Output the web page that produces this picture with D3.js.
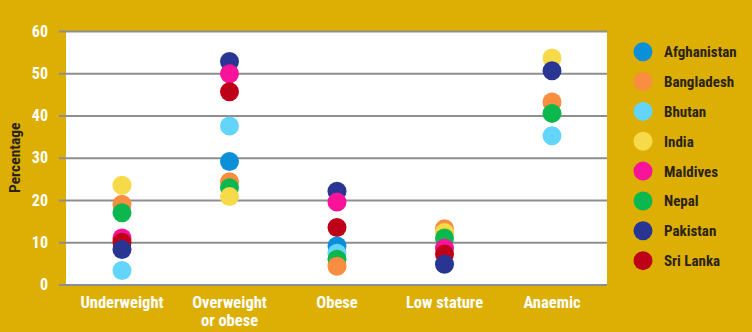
<!DOCTYPE html>
<html>
<head>
<meta charset="utf-8">
<script src="https://cdn.jsdelivr.net/npm/d3@7"></script>
<style>
  html, body { margin: 0; padding: 0; background: #DDAE03; }
  svg { display: block; }
  text { font-family: "Roboto Condensed", "Liberation Sans Narrow", "DejaVu Sans Condensed", sans-serif; font-weight: bold; }
</style>
</head>
<body>
<svg id="chart" width="752" height="332"></svg>
<script>
// Indicators along the x axis
const categories = ["Underweight", "Overweight or obese", "Obese", "Low stature", "Anaemic"];
const countries = ["Afghanistan", "Bangladesh", "Bhutan", "India", "Maldives", "Nepal", "Pakistan", "Sri Lanka"];
const colors = ["#0A8FD8", "#F98D40", "#63D5FA", "#F6DA4A", "#F8139A", "#0CB74E", "#283593", "#BE0019"];
const yTicks = [0, 10, 20, 30, 40, 50, 60];

// Percentage per country, one value per indicator (null = no data)
const afghanistan = [null, 29.1, 9.1, null, null];
const bangladesh  = [19.0, 24.3, 4.3, 13.2, 43.2];
const bhutan      = [3.3, 37.5, 7.4, null, 35.2];
const india       = [23.5, 20.8, null, 12.3, 53.6];
const maldives    = [11.0, 49.9, 19.5, 8.6, null];
const nepal       = [17.0, 22.9, 6.0, 11.0, 40.5];
const pakistan    = [8.3, 52.8, 22.1, 4.8, 50.6];
const sriLanka    = [10.0, 45.6, 13.5, 7.2, null];
const seriesValues = [afghanistan, bangladesh, bhutan, india, maldives, nepal, pakistan, sriLanka];

const svg = d3.select("#chart");
const plot = { left: 66, right: 607, top: 31, bottom: 284.5 };

const x = d3.scalePoint().domain(categories).range([122, 552]);
const y = d3.scaleLinear().domain([0, 60]).range([plot.bottom, plot.top]);
const color = d3.scaleOrdinal().domain(countries).range(colors);

// White plotting panel
svg.append("rect")
  .attr("x", plot.left).attr("y", y(60))
  .attr("width", plot.right - plot.left).attr("height", y(0) - y(60))
  .attr("fill", "#ffffff");

// Horizontal gridlines with tick labels
const yAxis = d3.axisLeft(y).tickValues(yTicks).tickSize(plot.right - 59).tickPadding(11);
const gy = svg.append("g").attr("transform", `translate(${plot.right},0)`).call(yAxis);
gy.select(".domain").remove();
gy.selectAll(".tick line").attr("stroke", "#8E8E8E").attr("stroke-width", 2);
gy.selectAll(".tick text").attr("fill", "#ffffff").attr("font-size", 16);

// Y axis title
svg.append("text")
  .attr("transform", `translate(20,${(y(0) + y(60)) / 2}) rotate(-90)`)
  .attr("text-anchor", "middle")
  .attr("fill", "#2B2415")
  .attr("font-size", 15.5)
  .text("Percentage");

// Category labels (wrap the long one onto two lines)
const labelLines = { "Overweight or obese": ["Overweight", "or obese"] };
const gx = svg.append("g");
categories.forEach(c => {
  const lines = labelLines[c] || [c];
  const t = gx.append("text")
    .attr("x", x(c)).attr("y", 308)
    .attr("text-anchor", "middle")
    .attr("fill", "#ffffff")
    .attr("font-size", 16.5);
  lines.forEach((ln, i) => t.append("tspan").attr("x", x(c)).attr("dy", i === 0 ? 0 : 18).text(ln));
});

// Dots: build records, draw higher values first so lower ones sit on top
const points = [];
countries.forEach((name, ci) => {
  seriesValues[ci].forEach((v, k) => {
    if (v !== null) points.push({ country: name, category: categories[k], value: v });
  });
});
points.sort((a, b) => b.value - a.value);

svg.append("g").selectAll("circle")
  .data(points)
  .join("circle")
  .attr("cx", d => x(d.category))
  .attr("cy", d => y(d.value))
  .attr("r", 9.5)
  .attr("fill", d => color(d.country));

// Legend
const legend = svg.append("g").selectAll("g")
  .data(countries)
  .join("g")
  .attr("transform", (d, i) => `translate(643,${51.7 + i * 29.85})`);
legend.append("circle").attr("r", 9.5).attr("fill", d => color(d));
legend.append("text")
  .attr("x", 21).attr("dy", "0.36em")
  .attr("fill", "#2B2415")
  .attr("font-size", 15)
  .attr("font-weight", 500)
  .text(d => d);
</script>
</body>
</html>
